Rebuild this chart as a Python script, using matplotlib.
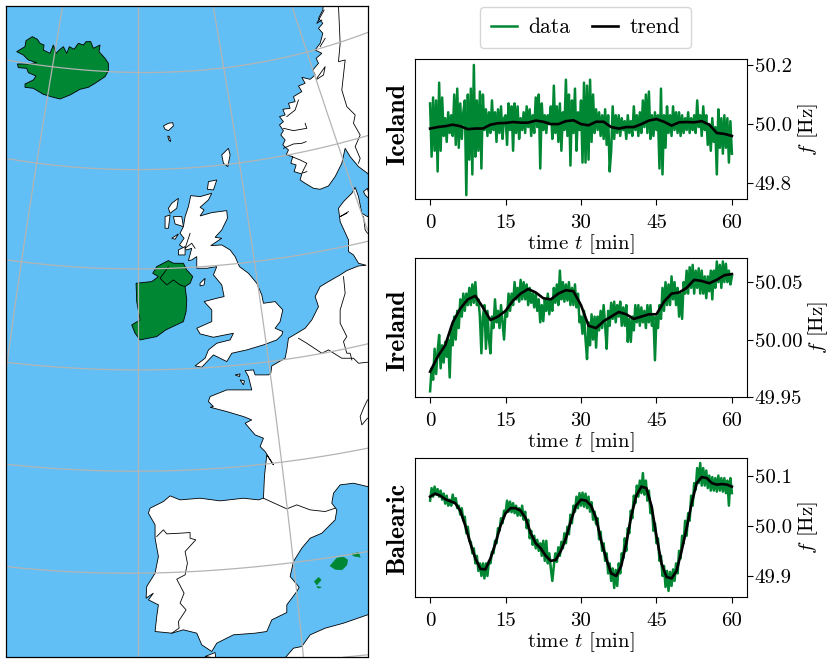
import numpy as np
import matplotlib
matplotlib.use("Agg")
import matplotlib.pyplot as plt
from matplotlib.patches import Polygon

plt.rcParams.update({"font.family": "cmr10", "mathtext.fontset": "cm",
                     "axes.unicode_minus": False, "axes.formatter.use_mathtext": True})

GREEN = "#008733"
SEA = "#61BFF5"
GRID = "#b4b4b4"

iceland_data = [50.07,49.89,50.09,49.91,50.08,49.84,50.14,49.91,50.09,49.96,
50.02,49.94,50.04,49.97,50.03,49.96,50.10,49.93,50.12,49.92,
50.07,49.95,50.04,50.08,49.76,50.10,49.88,50.12,49.83,50.20,
49.89,50.08,49.91,50.11,49.85,50.10,49.98,50.05,49.96,50.04,
49.97,50.08,49.98,50.04,49.94,50.05,49.97,50.06,49.95,50.02,
50.03,49.93,50.07,49.98,50.06,49.91,50.07,49.97,50.06,49.95,
50.02,49.98,50.04,49.97,50.06,49.99,50.05,49.96,50.03,49.97,
50.09,49.99,50.10,49.85,50.07,49.98,50.03,49.97,50.03,50.00,
50.06,49.95,50.13,49.97,50.06,49.94,50.07,49.91,50.04,49.98,
50.15,49.96,50.10,49.86,50.08,49.97,50.12,49.91,50.04,49.98,
50.08,49.87,50.14,49.87,50.13,49.88,50.15,49.94,50.10,49.97,
50.05,49.98,50.04,49.96,50.03,49.95,50.05,49.93,50.03,49.84,
49.91,50.06,49.95,50.03,49.97,50.03,49.96,50.02,49.98,50.01,
49.95,50.03,49.97,50.01,49.96,50.06,49.98,50.03,49.96,50.04,
49.97,50.08,49.99,50.10,49.97,50.11,49.95,50.03,49.96,50.04,
49.98,50.03,49.85,50.12,49.83,50.03,49.92,50.06,49.97,50.03,
49.96,50.06,49.98,50.04,49.97,50.04,49.96,50.03,49.97,50.02,
49.98,50.04,49.97,50.02,49.98,50.03,49.97,50.08,49.99,50.03,
49.96,50.06,49.98,50.03,49.93,50.00,49.91,50.02,49.94,49.99,
49.83,50.05,49.92,50.02,49.90,50.03,49.92,50.02,49.87,50.01,49.90]
iceland_trend = [49.985,49.99,49.993,49.998,49.993,49.983,49.985,49.985,49.998,50.003,
50.004,50.007,50.005,50.005,50.012,50.008,50.0,50.0,50.01,50.013,
50.0,49.996,50.008,50.008,49.99,49.985,49.99,49.99,50.0,50.012,
50.017,50.008,49.995,50.006,50.007,50.006,50.01,49.998,49.97,49.967,49.96]

ireland_data = [49.955,49.975,49.965,49.992,49.97,49.99,50.004,49.975,49.995,49.98,
49.998,49.985,50.0,49.967,50.01,49.995,50.02,50.0,50.025,50.01,
50.035,50.02,50.04,50.025,50.04,50.03,50.045,50.03,50.048,50.032,
50.05,50.03,50.035,50.02,49.988,50.02,50.03,49.992,50.025,50.0,
49.988,50.02,50.01,50.035,50.015,50.025,50.01,50.03,50.015,50.0,
50.025,50.02,50.04,50.025,50.04,50.03,50.05,50.035,50.045,50.033,
50.052,50.035,50.05,50.035,50.048,50.03,50.045,50.032,50.04,50.028,
50.04,50.025,50.035,50.015,50.03,50.016,50.035,50.025,50.04,50.022,
50.035,50.025,50.045,50.032,50.048,50.03,50.06,50.035,50.05,50.033,
50.048,50.034,50.05,50.03,50.045,50.03,50.048,50.028,50.04,50.015,
50.02,50.005,50.025,50.0,49.983,50.015,49.995,50.022,50.0,50.02,
49.993,50.02,50.008,50.025,50.01,50.03,50.012,49.992,50.025,50.012,
50.032,50.018,50.033,50.015,50.03,50.02,50.033,50.012,50.028,50.012,
50.03,49.998,50.018,49.998,50.02,50.008,50.03,50.015,50.03,50.012,
50.028,50.015,50.025,50.01,50.03,50.015,50.03,50.012,50.02,49.982,
50.02,50.01,50.03,50.018,50.045,50.025,50.05,50.03,50.048,50.03,
50.055,50.035,50.05,50.03,50.045,50.02,50.04,50.018,50.05,50.04,
50.06,50.04,50.063,50.045,50.065,50.04,50.06,50.045,50.062,50.04,
50.06,50.04,50.055,50.036,50.055,50.042,50.06,50.035,50.06,50.045,
50.068,50.05,50.065,50.045,50.068,50.05,50.066,50.05,50.06,50.048,50.055]
ireland_trend = [49.972,49.985,49.995,50.015,50.027,50.035,50.038,50.028,50.017,50.02,
50.025,50.034,50.04,50.044,50.041,50.036,50.035,50.04,50.043,50.042,
50.03,50.012,50.01,50.016,50.02,50.024,50.022,50.018,50.02,50.022,
50.022,50.033,50.04,50.041,50.045,50.052,50.051,50.049,50.052,50.056,50.057]

balearic_data = [50.05,50.075,50.058,50.078,50.062,50.073,50.058,50.07,50.052,50.064,
50.044,50.06,50.04,50.052,50.04,50.062,50.045,50.055,50.035,50.04,
50.022,50.035,50.01,50.018,49.985,49.998,49.97,49.968,49.945,49.955,
49.925,49.94,49.91,49.925,49.9,49.925,49.895,49.925,49.9,49.93,
49.925,49.948,49.945,49.97,49.965,49.995,49.99,50.015,50.005,50.03,
50.025,50.05,50.028,50.048,50.027,50.045,50.025,50.04,50.02,50.035,
50.02,50.04,50.012,50.028,49.995,50.012,49.975,49.99,49.962,49.98,
49.955,49.972,49.95,49.965,49.94,49.97,49.93,49.97,49.925,49.945,
49.915,49.89,49.92,49.945,49.928,49.957,49.94,49.968,49.955,49.985,
49.965,49.998,49.983,50.022,50.005,50.04,50.028,50.058,50.035,50.065,
50.04,50.066,50.038,50.064,50.035,50.058,50.028,50.047,50.012,50.028,
50.003,50.015,49.973,49.988,49.95,49.965,49.93,49.945,49.905,49.925,
49.89,49.915,49.876,49.912,49.88,49.925,49.905,49.945,49.935,49.975,
49.95,49.995,49.985,50.03,50.015,50.06,50.045,50.08,50.058,50.09,
50.065,50.105,50.062,50.09,50.05,50.07,50.025,50.037,49.99,50.005,
49.965,49.975,49.93,49.94,49.9,49.92,49.878,49.91,49.87,49.908,
49.88,49.913,49.89,49.925,49.905,49.95,49.935,49.98,49.965,50.01,
49.98,50.025,50.01,50.06,50.04,50.085,50.072,50.115,50.085,50.125,
50.08,50.115,50.08,50.11,50.075,50.1,50.07,50.097,50.07,50.095,
50.068,50.1,50.07,50.095,50.068,50.095,50.065,50.09,50.04,50.095,50.065]
balearic_trend = [50.058,50.064,50.06,50.053,50.049,50.045,50.03,50.0,49.965,49.935,
49.914,49.913,49.935,49.965,50.0,50.025,50.035,50.035,50.03,50.015,
49.985,49.965,49.955,49.94,49.93,49.932,49.95,49.975,50.01,50.04,
50.052,50.05,50.04,50.015,49.97,49.935,49.905,49.9,49.92,49.965,
50.02,50.06,50.078,50.075,50.04,49.98,49.925,49.898,49.895,49.91,
49.95,49.995,50.045,50.085,50.097,50.095,50.085,50.082,50.083,50.082,50.078]

panel_names = ["Iceland", "Ireland", "Balearic"]
name_centres = [124, 330, 529]
xtick_values = [0, 15, 30, 45, 60]
ytick_iceland = [49.8, 50.0, 50.2]
ytick_ireland = [49.95, 50.00, 50.05]
ytick_balearic = [49.9, 50.0, 50.1]

# Map outlines, in map units (y grows southwards)
iceland_map = [(50,155),(75,140),(78,122),(97,110),(112,118),(120,130),(132,135),(130,150),(150,160),(160,135),(168,160),(180,148),(190,140),(200,160),(208,140),(222,148),(235,130),(250,135),(258,125),(272,125),(280,145),(300,135),(297,155),(315,175),(325,190),(325,212),(315,230),(285,250),(265,262),(240,268),(210,285),(180,297),(160,292),(130,283),(100,265),(75,262),(75,252),(100,240),(108,228),(85,218),(80,205),(55,203),(52,192),(85,192),(110,188),(85,180),(70,165)]
ireland_map = [(470,800),(505,782),(520,790),(550,790),(560,810),(578,830),(570,850),(555,860),(560,900),(558,935),(550,965),(497,990),(470,1010),(420,1020),(405,1000),(395,975),(420,960),(410,905),(408,850),(455,845),(475,830),(458,820)]
ni_border = [(505,800),(495,815),(480,835),(500,855),(520,840),(540,855),(555,860)]
balearic_map = [
 [(990,1698),(1010,1675),(1030,1672),(1042,1680),(1040,1695),(1025,1710),(1005,1708)],
 [(1055,1662),(1075,1658),(1080,1672),(1060,1668)],
 [(943,1745),(955,1733),(963,1740),(950,1755)],
 [(950,1760),(963,1762),(955,1765)],
]
gb_map = [(572,587),(600,590),(635,580),(625,600),(600,622),(612,630),(600,648),(635,638),(680,632),(682,655),(665,690),(645,712),(665,715),(632,737),(665,735),(690,750),(705,770),(718,800),(745,820),(770,850),(785,885),(790,910),(825,905),(848,930),(840,965),(825,985),(848,995),(845,1005),(830,1020),(790,1035),(740,1050),(695,1060),(680,1085),(640,1065),(605,1102),(585,1098),(615,1075),(625,1050),(650,1030),(690,1020),(700,1000),(640,1012),(600,1002),(590,985),(635,965),(635,930),(612,905),(650,895),(672,890),(665,855),(640,825),(650,800),(620,805),(590,805),(590,770),(575,780),(565,782),(575,745),(560,750),(538,735),(552,715),(540,700),(550,680),(555,650),(565,620)]
small_islands = [
 [(490,378),(505,370),(518,368),(520,378),(505,392),(495,388)],
 [(503,408),(508,410),(512,425),(506,420)],
 [(665,465),(685,445),(690,465),(683,500),(670,490)],
 [(625,545),(650,540),(640,570),(622,568)],
 [(600,850),(615,835),(612,855),(600,858)],
 [(515,610),(535,595),(530,625),(510,640),(505,625)],
 [(495,650),(510,645),(505,685),(495,685)],
 [(520,650),(545,650),(550,680),(525,672)],
 [(535,750),(555,740),(555,765),(535,765)],
 [(515,715),(535,702),(525,718)],
 [(615,1970),(645,1958),(647,1975)],
 [(705,1125),(720,1122),(718,1130)],
 [(720,1140),(733,1143),(730,1155)],
 [(1090,575),(1102,565),(1110,600),(1095,585)],
]
norway_map = [(970,10),(968,30),(955,55),(968,70),(955,85),(968,100),(960,130),(945,150),(965,160),(948,175),(955,190),(938,210),(945,225),(930,238),(905,232),(915,250),(895,258),(905,275),(880,290),(885,305),(865,310),(870,325),(848,328),(855,345),(838,350),(850,365),(838,375),(850,392),(842,405),(855,420),(848,435),(865,450),(858,465),(878,470),(872,490),(888,495),(882,515),(905,522),(900,540),(915,550),(940,565),(960,568),(985,558),(1005,530),(1025,490),(1035,445),(1050,470),(1075,500),(1102,520),(1110,530),(1110,10)]
continent_map = [(1110,650),(1102,650),(1085,640),(1075,590),(1065,562),(1055,580),(1030,605),(1015,625),(1020,665),(1045,720),(1045,755),(1060,765),(1075,790),(1098,796),(1075,798),(1040,812),(1020,825),(985,845),(960,860),(945,890),(955,920),(935,960),(915,985),(890,1000),(865,1015),(860,1050),(855,1075),(815,1098),(812,1120),(805,1125),(765,1125),(760,1110),(735,1112),(745,1130),(755,1170),(700,1170),(680,1170),(630,1190),(625,1205),(640,1220),(630,1222),(680,1235),(730,1250),(755,1260),(735,1270),(765,1305),(790,1315),(780,1340),(795,1355),(820,1395),(800,1365),(795,1410),(793,1430),(790,1495),(775,1500),(730,1495),(660,1503),(600,1495),(540,1500),(510,1488),(490,1505),(450,1525),(445,1540),(465,1575),(465,1615),(475,1670),(465,1720),(440,1760),(438,1795),(460,1780),(445,1800),(475,1815),(470,1850),(465,1895),(515,1900),(550,1890),(590,1900),(605,1935),(635,1955),(650,1930),(700,1905),(765,1900),(800,1895),(815,1860),(860,1838),(860,1815),(890,1775),(897,1762),(870,1730),(880,1685),(905,1645),(930,1615),(965,1600),(1005,1560),(1010,1530),(995,1510),(1000,1480),(1020,1455),(1060,1450),(1102,1460),(1110,1460)]
africa_map = [(850,1980),(880,1945),(905,1940),(930,1905),(975,1885),(1030,1870),(1102,1845),(1110,1845),(1110,1980)]
border_lines = [
 [(1015,18),(1020,130),(1015,185),(1035,180),(1025,270),(1040,320),(1065,345),(1060,370),(1080,405),(1065,440),(1080,475),(1075,490)],
 [(1030,830),(1035,880),(1020,930),(1020,970),(1040,1010),(1030,1025),(1040,1060),(1050,1060),(1055,1080)],
 [(895,1015),(920,1030),(965,1060),(985,1050),(1025,1075),(1060,1075),(1075,1090),(1102,1087)],
 [(1102,1200),(1090,1225),(1080,1250),(1085,1275),(1102,1255)],
 [(790,1495),(860,1527),(890,1515),(930,1530),(975,1535),(1005,1525)],
 [(470,1610),(490,1590),(500,1602),(540,1600),(570,1598),(570,1615),(587,1620),(555,1655),(562,1690),(555,1725),(530,1738),(552,1780),(540,1810),(558,1830),(535,1865),(537,1885),(515,1900)],
 [(850,385),(880,392),(920,385),(915,370)],[(850,445),(880,432),(905,430),(918,425)],
 [(875,470),(900,480),(920,490),(905,520),(920,515)],[(860,350),(885,330),(895,300)],
 [(950,235),(975,200),(970,225),(950,238)],[(960,140),(975,115)],[(965,60),(950,70),(972,30)],
 [(1040,640),(1020,650),(1045,635)],[(1090,650),(1095,690),(1102,700)],[(570,700),(555,745),(575,730),(585,745)],
]
# Graticule, in the same map units
meridian_lines = [
 [(188,18),(157,200),(110,490),(65,785),(35,985),(20,1090),(18,1125)],
 [(413,18),(413,1970)],
 [(640,18),(670,205),(717,490),(765,785),(790,985),(808,1085),(843,1387),(880,1690),(910,1970)],
 [(875,18),(920,155),(1012,430),(1070,600),(1102,690)],
]
parallel_lines = [
 [(18,180),(157,200),(413,217),(670,205),(920,155),(1102,98)],
 [(18,475),(110,490),(413,508),(717,490),(1012,430),(1102,408)],
 [(18,780),(65,785),(413,807),(765,785),(1050,735),(1102,725)],
 [(18,1087),(413,1110),(808,1085),(1102,1032)],
 [(18,1393),(413,1414),(843,1387),(1102,1345)],
 [(18,1700),(413,1720),(880,1688),(1102,1655)],
 [(1030,1972),(1102,1965)],
]

W, H = 830, 664
fig = plt.figure(figsize=(W / 100, H / 100), dpi=100)

def add_axes_px(l, t, r, b):
    return fig.add_axes([l / W, 1 - b / H, (r - l) / W, (b - t) / H])

# Map
ax = add_axes_px(6, 6, 367.5, 656.5)
ax.set_xlim(18, 1102)
ax.set_ylim(1970, 18)
ax.set_facecolor(SEA)
ax.set_xticks([])
ax.set_yticks([])
for poly in [norway_map, continent_map, africa_map, gb_map] + small_islands:
    ax.add_patch(Polygon(poly, closed=True, fc="white", ec="black", lw=0.6, zorder=2))
for poly in [iceland_map, ireland_map]:
    ax.add_patch(Polygon(poly, closed=True, fc=GREEN, ec="black", lw=0.6, zorder=2))
for poly in balearic_map:
    ax.add_patch(Polygon(poly, closed=True, fc=GREEN, ec=GREEN, lw=0.5, zorder=2))
for line in border_lines + [ni_border]:
    xs, ys = zip(*line)
    ax.plot(xs, ys, color="black", lw=0.6, zorder=3)
for line in meridian_lines:
    xs, ys = map(np.array, zip(*line))
    deg = min(3, len(xs) - 1)
    c = np.polyfit(ys, xs, deg)
    yy = np.linspace(ys.min(), ys.max(), 100)
    ax.plot(np.polyval(c, yy), yy, color=GRID, lw=0.9, zorder=4)
for line in parallel_lines:
    xs, ys = map(np.array, zip(*line))
    deg = min(3, len(xs) - 1)
    c = np.polyfit(xs, ys, deg)
    xx = np.linspace(xs.min(), xs.max(), 100)
    ax.plot(xx, np.polyval(c, xx), color=GRID, lw=0.9, zorder=4)
for s in ax.spines.values():
    s.set_linewidth(0.9)
    s.set_zorder(6)

# Time series
panels = [
    (59, 199, iceland_data, iceland_trend, ytick_iceland, (49.747, 50.22), "%.1f"),
    (258, 397, ireland_data, ireland_trend, ytick_ireland, (49.95, 50.071), "%.2f"),
    (458, 597, balearic_data, balearic_trend, ytick_balearic, (49.858, 50.135), "%.1f"),
]
handles = None
for name, yc, (top, bottom, data, trend, yt, yl, fmt) in zip(panel_names, name_centres, panels):
    a = add_axes_px(415, top, 747, bottom)
    l1, = a.plot(np.linspace(0, 60, len(data)), data, color=GREEN, lw=1.8, label="data")
    l2, = a.plot(np.linspace(0, 60, len(trend)), trend, color="black", lw=1.9, label="trend")
    handles = [l1, l2]
    a.set_xlim(-3, 63)
    a.set_ylim(*yl)
    a.set_xticks(xtick_values)
    a.set_xticklabels([str(v) for v in xtick_values])
    a.yaxis.tick_right()
    a.yaxis.set_label_position("right")
    a.set_yticks(yt)
    a.set_yticklabels([fmt % v for v in yt])
    a.tick_params(axis="x", labelsize=15, length=4, width=0.8, pad=7)
    a.tick_params(axis="y", labelsize=15, length=4, width=0.8, pad=1.5)
    a.set_xlabel(r"time $t$ [min]", fontsize=15, labelpad=0)
    a.set_ylabel(r"$f$ [Hz]", fontsize=15, labelpad=3)
    fig.text(398 / W, 1 - yc / H, name, rotation=90, ha="center", va="center",
             family="cmb10", fontsize=18.5)

fig.legend(handles, ["data", "trend"], loc="center", ncol=2, fontsize=15.5,
           bbox_to_anchor=(585.5 / W, 1 - 27.5 / H), columnspacing=1.0, handlelength=1.2,
           handletextpad=0.55, borderpad=0.5)

fig.savefig("out.png", dpi=100)
